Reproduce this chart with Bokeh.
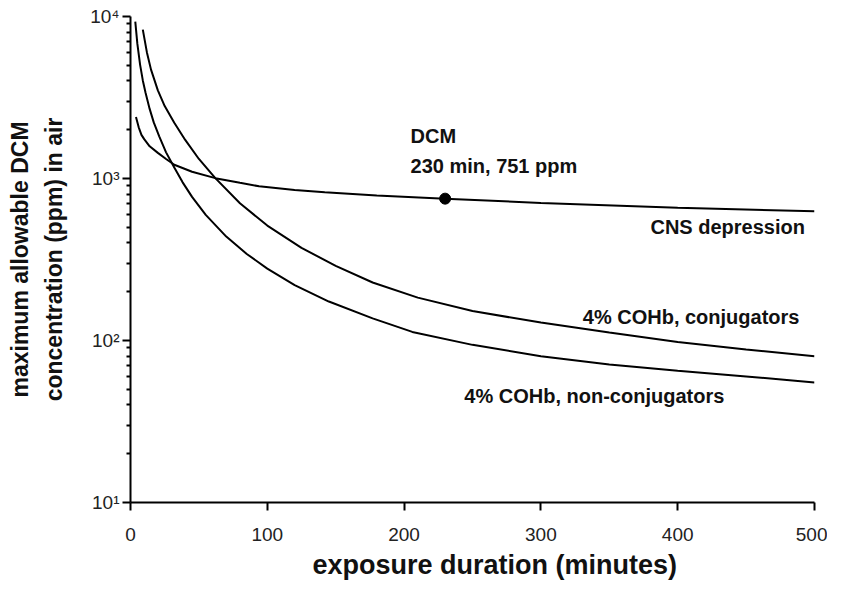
from bokeh.plotting import figure
from bokeh.models import Range1d, FixedTicker, Title
from bokeh.core.properties import value
from bokeh.embed import file_html
from bokeh.resources import INLINE

# ---- data (minutes, ppm) ----
cns_t = [4, 6, 8, 10, 14, 20, 26, 32, 45, 62, 80, 94, 120, 142, 180, 230, 300, 400, 500]
cns_v = [2400, 2070, 1860, 1750, 1580, 1440, 1320, 1215, 1100, 1005, 940, 895, 850, 822, 785,
         751, 706, 661, 627]

conj_t = [9, 12, 15, 20, 25, 32, 40, 50, 62, 80, 100, 125, 150, 177, 210, 250, 300, 350,
          400, 450, 500]
conj_v = [8300, 6000, 4700, 3500, 2800, 2210, 1730, 1320, 1005, 703, 512, 373, 289, 228, 184,
          152, 129, 112, 98, 88, 80]

nonconj_t = [3.5, 5, 7, 9, 11, 14, 17, 21, 26, 32, 38, 45, 55, 70, 85, 100, 120, 145, 177,
             206, 250, 300, 350, 400, 450, 500]
nonconj_v = [9300, 6800, 5050, 4030, 3380, 2690, 2220, 1820, 1450, 1170, 950, 770, 596, 438,
             342, 278, 220, 174, 137, 113, 94, 80, 71, 65, 60, 55]

point_t = [230]
point_v = [751]

x_ticks = [0, 100, 200, 300, 400, 500]
y_ticks = [10, 100, 1000, 10000]
y_tick_labels = ["10\u00b9", "10\u00b2", "10\u00b3", "10\u2074"]
y_minor = [m * d for d in (10, 100, 1000) for m in range(2, 10)]

x_title = "exposure duration (minutes)"
y_title = "maximum allowable DCM\nconcentration (ppm) in air"

FONT = "Liberation Sans"

p = figure(frame_width=684, frame_height=486,
           min_border_left=130, min_border_right=13,
           min_border_top=16, min_border_bottom=10,
           x_range=Range1d(0, 500), y_range=Range1d(10, 10000),
           y_axis_type="log", output_backend="svg", toolbar_location=None,
           background_fill_color="white", border_fill_color="white")
p.outline_line_color = None
p.grid.visible = False

# x axis
xa = p.xaxis[0]
xa.ticker = FixedTicker(ticks=x_ticks)
xa.axis_line_width = 2
xa.axis_line_color = "black"
xa.major_tick_line_width = 2
xa.major_tick_out = 8
xa.major_tick_in = 0
xa.minor_tick_line_color = None
xa.major_label_text_font = FONT
xa.major_label_text_font_size = "19px"
xa.major_label_text_color = "#222222"
xa.major_label_standoff = 17

# x title below, shifted right as in the reference
p.add_layout(Title(text=x_title, align="left", offset=182, standoff=8,
                   text_font=FONT, text_font_style="bold", text_font_size="27px",
                   text_color="#111111"), "below")

# y axis
ya = p.yaxis[0]
ya.ticker = FixedTicker(ticks=y_ticks, minor_ticks=y_minor)
ya.major_label_overrides = {float(t): lab for t, lab in zip(y_ticks, y_tick_labels)}
ya.axis_line_width = 2
ya.axis_line_color = "black"
ya.major_tick_line_width = 2
ya.major_tick_out = 8
ya.major_tick_in = 0
ya.minor_tick_line_width = 2
ya.minor_tick_out = 4
ya.minor_tick_in = 0
ya.major_label_text_font = FONT
ya.major_label_text_font_size = "19px"
ya.major_label_text_color = "#222222"
ya.major_label_standoff = 3
ya.axis_label = y_title
ya.axis_label_text_font = FONT
ya.axis_label_text_font_style = "bold"
ya.axis_label_text_font_size = "23px"
ya.axis_label_text_line_height = 1.3
ya.axis_label_text_color = "#111111"
ya.axis_label_standoff = 20

# curves
p.line(cns_t, cns_v, line_color="black", line_width=2)
p.line(conj_t, conj_v, line_color="black", line_width=2)
p.line(nonconj_t, nonconj_v, line_color="black", line_width=2)
p.scatter(point_t, point_v, size=11, color="black")

# annotations
def note(x, y, txt, align="left"):
    p.text(x=[x], y=[y], text=[txt], text_font=value(FONT), text_font_style="bold",
           text_font_size="20px", text_color="#111111", text_align=align,
           text_baseline="middle")

note(204.7, 1841, "DCM")
note(204.7, 1186, "230 min, 751 ppm")
note(493, 499, "CNS depression", "right")
note(489, 139, "4% COHb, conjugators", "right")
note(244, 45.7, "4% COHb, non-conjugators")

open("out.html", "w").write(file_html(p, INLINE))
